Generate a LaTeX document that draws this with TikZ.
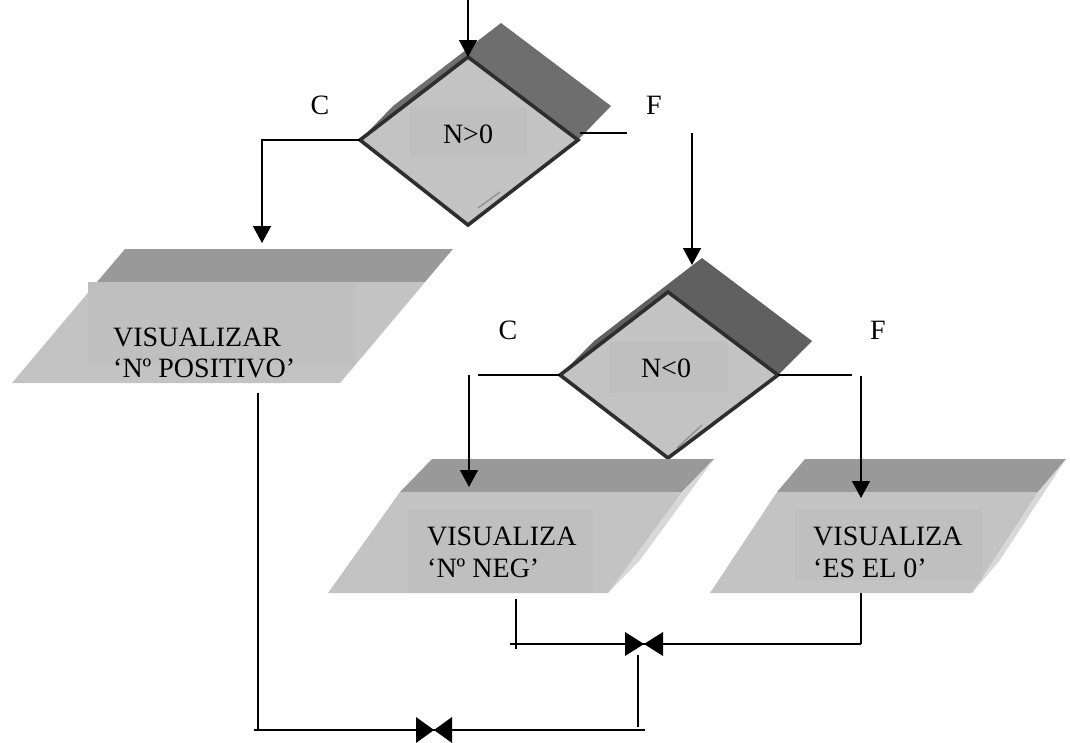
\documentclass[tikz,border=0pt]{standalone}
\usepackage{fontspec}
\setmainfont{Liberation Serif}
\usetikzlibrary{arrows.meta}
\definecolor{band}{HTML}{999999}
\definecolor{strip}{HTML}{D8D8D8}
\definecolor{face}{HTML}{C3C3C3}
\definecolor{tbox}{HTML}{BFBFBF}
\definecolor{shadeA}{HTML}{6E6E6E}
\definecolor{shadeB}{HTML}{606060}
\definecolor{outl}{HTML}{2E2E2E}
\definecolor{hilite}{HTML}{8C8C8C}
\begin{document}
\begin{tikzpicture}[x=1pt,y=-1pt,
  conn/.style={line width=1.5pt,draw=black},
  arr/.style={conn,-{Triangle[width=18pt,length=17pt]}},
  lbl/.style={font=\fontsize{28}{31}\selectfont,inner sep=0pt},
  txt/.style={lbl,anchor=base west},
  dia/.style={fill=face,draw=outl,line width=3.6pt,line join=miter},
  bow/.style={fill=black}]
\useasboundingbox (0,0) rectangle (1070,742);

% ---------- decision 1 ----------
\coordinate (d1top) at (468,57);
\coordinate (d1left) at (360,140);
\coordinate (d1right) at (578,140);
\coordinate (d1bot) at (468,225);
\fill[shadeA] (d1left) -- (393,106) -- (501,23) -- (611,106) -- (d1right) -- (d1bot) -- cycle;
\path[dia] (d1top) -- (d1right) -- (d1bot) -- (d1left) -- cycle;
\fill[tbox] (410,107) rectangle (527,157);
\draw[hilite,line width=1.2pt] (478,208) -- (500,192);
\node[lbl] (n1) at (468,134) {N>0};

% ---------- decision 2 ----------
\coordinate (d2top) at (668,292);
\coordinate (d2left) at (560,375);
\coordinate (d2right) at (778,375);
\coordinate (d2bot) at (668,458);
\fill[shadeB] (d2left) -- (594,341) -- (702,258) -- (812,341) -- (d2right) -- (d2bot) -- cycle;
\path[dia] (d2top) -- (d2right) -- (d2bot) -- (d2left) -- cycle;
\fill[tbox] (610,342) rectangle (728,393);
\draw[hilite,line width=1.2pt] (677,448) -- (702,425);
\node[lbl] (n2) at (666,368) {N<0};

% ---------- output 1 ----------
\fill[band] (97,282) -- (125,249) -- (453,249) -- (425,282) -- cycle;
\fill[strip] (425,282) -- (453,249) -- (368,350) -- (340,383) -- cycle;
\fill[face] (12,383) -- (340,383) -- (425,282) -- (97,282) -- cycle;
\fill[tbox] (88,282) rectangle (355,365);
\node[txt] (p1a) at (113,346) {VISUALIZAR};
\node[txt] (p1b) at (113,377) {‘Nº POSITIVO’};

% ---------- output 2 ----------
\fill[band] (400,492) -- (432,459) -- (714,459) -- (682,492) -- cycle;
\fill[strip] (682,492) -- (714,459) -- (640,560) -- (608,593) -- cycle;
\fill[face] (328,593) -- (608,593) -- (682,492) -- (400,492) -- cycle;
\fill[tbox] (408,510) rectangle (593,593);
\node[txt] (p2a) at (427,545) {VISUALIZA};
\node[txt] (p2b) at (427,577) {‘Nº NEG’};

% ---------- output 3 ----------
\fill[band] (777,492) -- (805,459) -- (1066,459) -- (1038,492) -- cycle;
\fill[strip] (1038,492) -- (1066,459) -- (1000,560) -- (972,593) -- cycle;
\fill[face] (710,593) -- (972,593) -- (1038,492) -- (777,492) -- cycle;
\fill[tbox] (795,510) rectangle (982,580);
\node[txt] (p3a) at (813,545) {VISUALIZA};
\node[txt] (p3b) at (813,577) {‘ES EL 0’};

% ---------- labels ----------
\node[lbl] (c1) at (320,105) {C};
\node[lbl] (f1) at (654,105) {F};
\node[lbl] (c2) at (508,330) {C};
\node[lbl] (f2) at (878,330) {F};

% ---------- connectors ----------
\coordinate (start) at (468,0);
\draw[arr] (start) -- (d1top);

\coordinate (c1corner) at (262,140);
\coordinate (p1in) at (262,243);
\draw[arr] (d1left) -- (c1corner) -- (p1in);

\coordinate (f1a) at (580,133);
\coordinate (f1b) at (627,133);
\draw[conn] (f1a) -- (f1b);
\coordinate (f1c) at (692,133);
\coordinate (d2in) at (692,265);
\draw[arr] (f1c) -- (d2in);

\coordinate (c2end) at (478,375);
\draw[conn] (d2left) -- (c2end);
\coordinate (c2v) at (469,375);
\coordinate (p2in) at (469,487);
\draw[arr] (c2v) -- (p2in);

\coordinate (f2end) at (852,375);
\draw[conn] (d2right) -- (f2end);
\coordinate (f2v) at (861,376);
\coordinate (p3in) at (861,498);
\draw[arr] (f2v) -- (p3in);

% lower merge
\coordinate (p2out) at (516,599);
\coordinate (p2low) at (516,649);
\draw[conn] (p2out) -- (p2low);
\coordinate (m1l) at (510,644);
\coordinate (m1r) at (861,644);
\draw[conn] (m1l) -- (m1r);
\coordinate (p3out) at (861,593);
\draw[conn] (p3out) -- (m1r);
\coordinate (j1) at (644,644);
\fill[bow] ([shift={(-19,-12)}]j1) -- ([shift={(-19,12)}]j1) -- (j1) -- cycle;
\fill[bow] ([shift={(19,-12)}]j1) -- ([shift={(19,12)}]j1) -- (j1) -- cycle;

% bottom merge
\coordinate (p1out) at (258,393);
\coordinate (p1low) at (258,730);
\draw[conn] (p1out) -- (p1low);
\coordinate (m2l) at (254,730);
\coordinate (m2r) at (645,730);
\draw[conn] (m2l) -- (m2r);
\coordinate (j1down) at (638,655);
\coordinate (j1low) at (638,727);
\draw[conn] (j1down) -- (j1low);
\coordinate (j2) at (434,730);
\fill[bow] ([shift={(-18,-13)}]j2) -- ([shift={(-18,13)}]j2) -- (j2) -- cycle;
\fill[bow] ([shift={(18,-13)}]j2) -- ([shift={(18,13)}]j2) -- (j2) -- cycle;
\end{tikzpicture}
\end{document}
